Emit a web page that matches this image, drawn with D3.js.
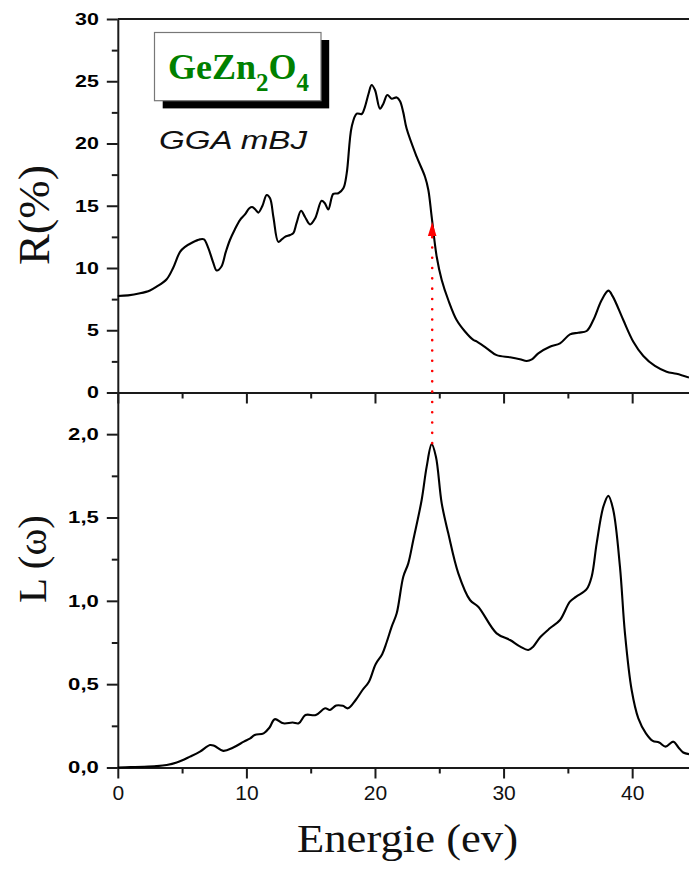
<!DOCTYPE html>
<html><head><meta charset="utf-8">
<script src="https://cdn.jsdelivr.net/npm/d3@7/dist/d3.min.js"></script>
<style>body{margin:0;background:#fff}svg{display:block}</style>
</head><body>
<svg id="chart" width="689" height="870"></svg>
<script>
// ---- data ----
const reflectivity = [[0,7.75],[0.8,7.8],[1.73,7.97],[2.5,8.2],[3.02,8.5],[3.8,9.1],[4.3,10.0],[4.84,11.3],[5.23,11.7],[5.8,12.05],[6.39,12.3],[6.7,12.3],[7.04,11.6],[7.4,10.5],[7.69,9.8],[8.05,10.1],[8.4,11.3],[8.72,12.25],[9.1,13.1],[9.5,13.85],[9.89,14.3],[10.23,14.8],[10.45,14.9],[10.7,14.7],[10.93,14.45],[11.25,15.0],[11.58,15.86],[11.84,15.6],[12.1,14.1],[12.48,12.1],[12.75,12.3],[13.0,12.5],[13.4,12.65],[13.65,12.8],[13.9,13.6],[14.25,14.6],[14.56,14.1],[14.95,13.5],[15.35,14.0],[15.85,15.4],[16.1,15.2],[16.37,14.7],[16.76,15.95],[17.15,16.0],[17.54,16.4],[17.8,17.6],[18.19,21.35],[18.58,22.4],[18.97,22.37],[19.22,22.95],[19.5,24.0],[19.74,24.7],[20.0,24.3],[20.39,22.8],[20.65,23.2],[20.96,23.9],[21.3,23.6],[21.69,23.7],[21.95,23.4],[22.2,22.5],[22.46,21.2],[23.24,18.94],[23.89,17.33],[24.15,16.27],[24.41,14.1],[24.8,10.9],[25.19,9.04],[25.7,7.43],[26.35,5.82],[27.0,4.9],[27.65,4.22],[27.9,4.1],[28.69,3.55],[29.46,3.0],[30.5,2.83],[31.27,2.67],[31.8,2.53],[32.2,2.66],[32.7,3.15],[33.6,3.68],[34.39,3.95],[35.16,4.67],[35.8,4.8],[36.46,4.94],[36.98,5.82],[37.63,7.43],[38.15,8.18],[38.5,7.7],[39.31,5.82],[40.09,4.08],[40.87,2.93],[41.77,2.13],[42.68,1.67],[43.45,1.5],[44.42,1.2]];
const lossFunction = [[0,0],[1,0.002],[2,0.004],[3,0.008],[3.8,0.015],[4.58,0.03],[5.61,0.065],[6.39,0.095],[7.17,0.135],[7.5,0.13],[8.2,0.1],[8.98,0.12],[9.8,0.155],[10.3,0.175],[10.65,0.195],[11.34,0.205],[11.8,0.24],[12.2,0.29],[12.88,0.265],[13.6,0.27],[14.07,0.265],[14.59,0.315],[15.4,0.315],[16.12,0.355],[16.5,0.345],[16.98,0.372],[17.5,0.37],[17.9,0.355],[18.5,0.405],[19.03,0.465],[19.53,0.515],[20.05,0.62],[20.56,0.68],[20.9,0.75],[21.3,0.845],[21.69,0.925],[22.2,1.145],[22.59,1.225],[22.98,1.365],[23.63,1.605],[24.02,1.805],[24.41,1.94],[24.74,1.865],[25.19,1.585],[25.7,1.405],[26.48,1.165],[27.39,1.005],[28.03,0.965],[29.46,0.805],[30.5,0.765],[31.3,0.725],[31.92,0.705],[32.3,0.725],[32.83,0.78],[33.6,0.835],[34.39,0.885],[35.16,0.995],[35.65,1.025],[36.46,1.07],[36.85,1.145],[37.24,1.345],[37.76,1.565],[38.15,1.63],[38.53,1.545],[39.05,1.205],[39.44,0.805],[39.96,0.465],[40.48,0.295],[41.07,0.205],[41.6,0.16],[42.1,0.15],[42.6,0.125],[43.2,0.155],[43.6,0.12],[43.97,0.09],[44.42,0.08]];
const xTicks = [0,10,20,30,40];
const xTickLabels = ["0","10","20","30","40"];
const xMinorTicks = [5,15,25,35];
const rTicks = [0,5,10,15,20,25,30];
const rTickLabels = ["0","5","10","15","20","25","30"];
const rMinorTicks = [2.5,7.5,12.5,17.5,22.5,27.5];
const lTicks = [0,0.5,1,1.5,2];
const lTickLabels = ["0,0","0,5","1,0","1,5","2,0"];
const lMinorTicks = [0.25,0.75,1.25,1.75];
const arrowMark = {energy:24.45, fromL:1.94, toR:13.7};
const compound = ["GeZn","2","O","4"];
const methodLabel = "GGA mBJ";

// ---- layout ----
const svg = d3.select("#chart");
const left = 117.8, right = 689;
const topY = 19, midY = 392.5, botY = 767.5;
const x = d3.scaleLinear().domain([0,44.42]).range([left,right]);
const yR = d3.scaleLinear().domain([0,30]).range([midY,topY]);
const yL = d3.scaleLinear().domain([0,2.25]).range([botY,midY]);
const ink = "#1a1a1a";
const sansB = "bold 17px 'Liberation Sans', Arial, sans-serif";

svg.append("rect").attr("width",689).attr("height",870).attr("fill","#fff");

function styleAxis(g, w){
  g.selectAll("path.domain").attr("stroke",ink).attr("stroke-width",w);
  g.selectAll(".tick line").attr("stroke",ink).attr("stroke-width",2);
}
function stretchLabels(g, sx){
  g.selectAll(".tick text").each(function(){
    const t = d3.select(this);
    const tx = +t.attr("x") || 0;
    t.attr("x",0).attr("transform",`translate(${tx},0) scale(${sx},1)`);
  });
}

// top frame line
svg.append("line").attr("x1",left).attr("x2",right).attr("y1",topY).attr("y2",topY)
  .attr("stroke",ink).attr("stroke-width",2);

// top panel y axis
const gRmin = svg.append("g").attr("transform",`translate(${left},0)`)
  .call(d3.axisLeft(yR).tickValues(rMinorTicks).tickSize(6).tickSizeOuter(0).tickFormat(""));
gRmin.select("path.domain").remove(); styleAxis(gRmin,2);
const gR = svg.append("g").attr("transform",`translate(${left},0)`)
  .call(d3.axisLeft(yR).tickValues(rTicks).tickSize(11).tickSizeOuter(0).tickPadding(8)
    .tickFormat((d,i)=>rTickLabels[i]));
styleAxis(gR,2);
gR.selectAll(".tick text").style("font",sansB).attr("fill","#000");
stretchLabels(gR,1.26);

// bottom panel y axis
const gLmin = svg.append("g").attr("transform",`translate(${left},0)`)
  .call(d3.axisLeft(yL).tickValues(lMinorTicks).tickSize(6).tickSizeOuter(0).tickFormat(""));
gLmin.select("path.domain").remove(); styleAxis(gLmin,2);
const gL = svg.append("g").attr("transform",`translate(${left},0)`)
  .call(d3.axisLeft(yL).tickValues(lTicks).tickSize(11).tickSizeOuter(0).tickPadding(8)
    .tickFormat((d,i)=>lTickLabels[i]));
styleAxis(gL,2);
gL.selectAll(".tick text").style("font",sansB).attr("fill","#000");
stretchLabels(gL,1.3);

// x axes: separation (no labels) and bottom
[midY, botY].forEach((yy,k)=>{
  const gmin = svg.append("g").attr("transform",`translate(0,${yy})`)
    .call(d3.axisBottom(x).tickValues(xMinorTicks).tickSize(6).tickSizeOuter(0).tickFormat(""));
  gmin.select("path.domain").remove(); styleAxis(gmin,2);
  const gx = svg.append("g").attr("transform",`translate(0,${yy})`)
    .call(d3.axisBottom(x).tickValues(xTicks).tickSize(11).tickSizeOuter(0).tickPadding(6.5)
      .tickFormat((d,i)=> k===1 ? xTickLabels[i] : ""));
  styleAxis(gx,2);
  gx.selectAll(".tick text").style("font","21px 'Liberation Sans', Arial, sans-serif").attr("fill","#111");
});

// curves
const lineR = d3.line().x(d=>x(d[0])).y(d=>yR(d[1])).curve(d3.curveCatmullRom.alpha(0.5));
const lineL = d3.line().x(d=>x(d[0])).y(d=>yL(d[1])).curve(d3.curveCatmullRom.alpha(0.5));
svg.append("path").datum(reflectivity).attr("d",lineR).attr("fill","none")
  .attr("stroke","#000").attr("stroke-width",2.1).attr("stroke-linejoin","round");
svg.append("path").datum(lossFunction).attr("d",lineL).attr("fill","none")
  .attr("stroke","#000").attr("stroke-width",2.1).attr("stroke-linejoin","round");

// red dotted arrow
const ax = x(arrowMark.energy), tipY = yR(arrowMark.toR);
svg.append("line").attr("x1",ax).attr("x2",ax).attr("y1",yL(arrowMark.fromL)-1).attr("y2",tipY+14)
  .attr("stroke","#ff0000").attr("stroke-width",2.6).attr("stroke-linecap","round")
  .attr("stroke-dasharray","0 10.3");
svg.append("path").attr("d",`M${ax},${tipY} L${ax-4.3},${tipY+14} L${ax+4.3},${tipY+14} Z`)
  .attr("fill","#ff0000");

// legend box with shadow
svg.append("rect").attr("x",162.7).attr("y",40).attr("width",166.5).attr("height",68.4).attr("fill","#000");
svg.append("rect").attr("x",154.5).attr("y",32.5).attr("width",166.5).attr("height",68.2)
  .attr("fill","#fff").attr("stroke","#777").attr("stroke-width",1.2);
const tf = svg.append("text").attr("x",168).attr("y",79).attr("fill","#008000")
  .style("font","bold 36px 'Liberation Serif', 'Times New Roman', serif");
tf.append("tspan").text(compound[0]);
tf.append("tspan").attr("dy",12).style("font-size","25px").text(compound[1]);
tf.append("tspan").attr("dy",-12).text(compound[2]);
tf.append("tspan").attr("dy",12).style("font-size","25px").text(compound[3]);

svg.append("text").attr("x",159).attr("y",149).attr("textLength",148).attr("lengthAdjust","spacingAndGlyphs")
  .style("font","italic 26px 'Liberation Sans', Arial, sans-serif").attr("fill","#111").text(methodLabel);

// axis titles
const serif = "'Liberation Serif', 'Times New Roman', serif";
svg.append("text").attr("transform","translate(48.5,215) rotate(-90)").attr("text-anchor","middle")
  .attr("textLength",100).attr("lengthAdjust","spacingAndGlyphs")
  .style("font",`44px ${serif}`).attr("fill","#111").text("R(%)");
svg.append("text").attr("transform","translate(45.5,559) rotate(-90)").attr("text-anchor","middle")
  .attr("textLength",88).attr("lengthAdjust","spacingAndGlyphs")
  .style("font",`41px ${serif}`).attr("fill","#111").text("L (ω)");
svg.append("text").attr("x",407.5).attr("y",851.7).attr("text-anchor","middle")
  .attr("textLength",221).attr("lengthAdjust","spacingAndGlyphs")
  .style("font",`40px ${serif}`).attr("fill","#111").text("Energie (ev)");
</script>
</body></html>
